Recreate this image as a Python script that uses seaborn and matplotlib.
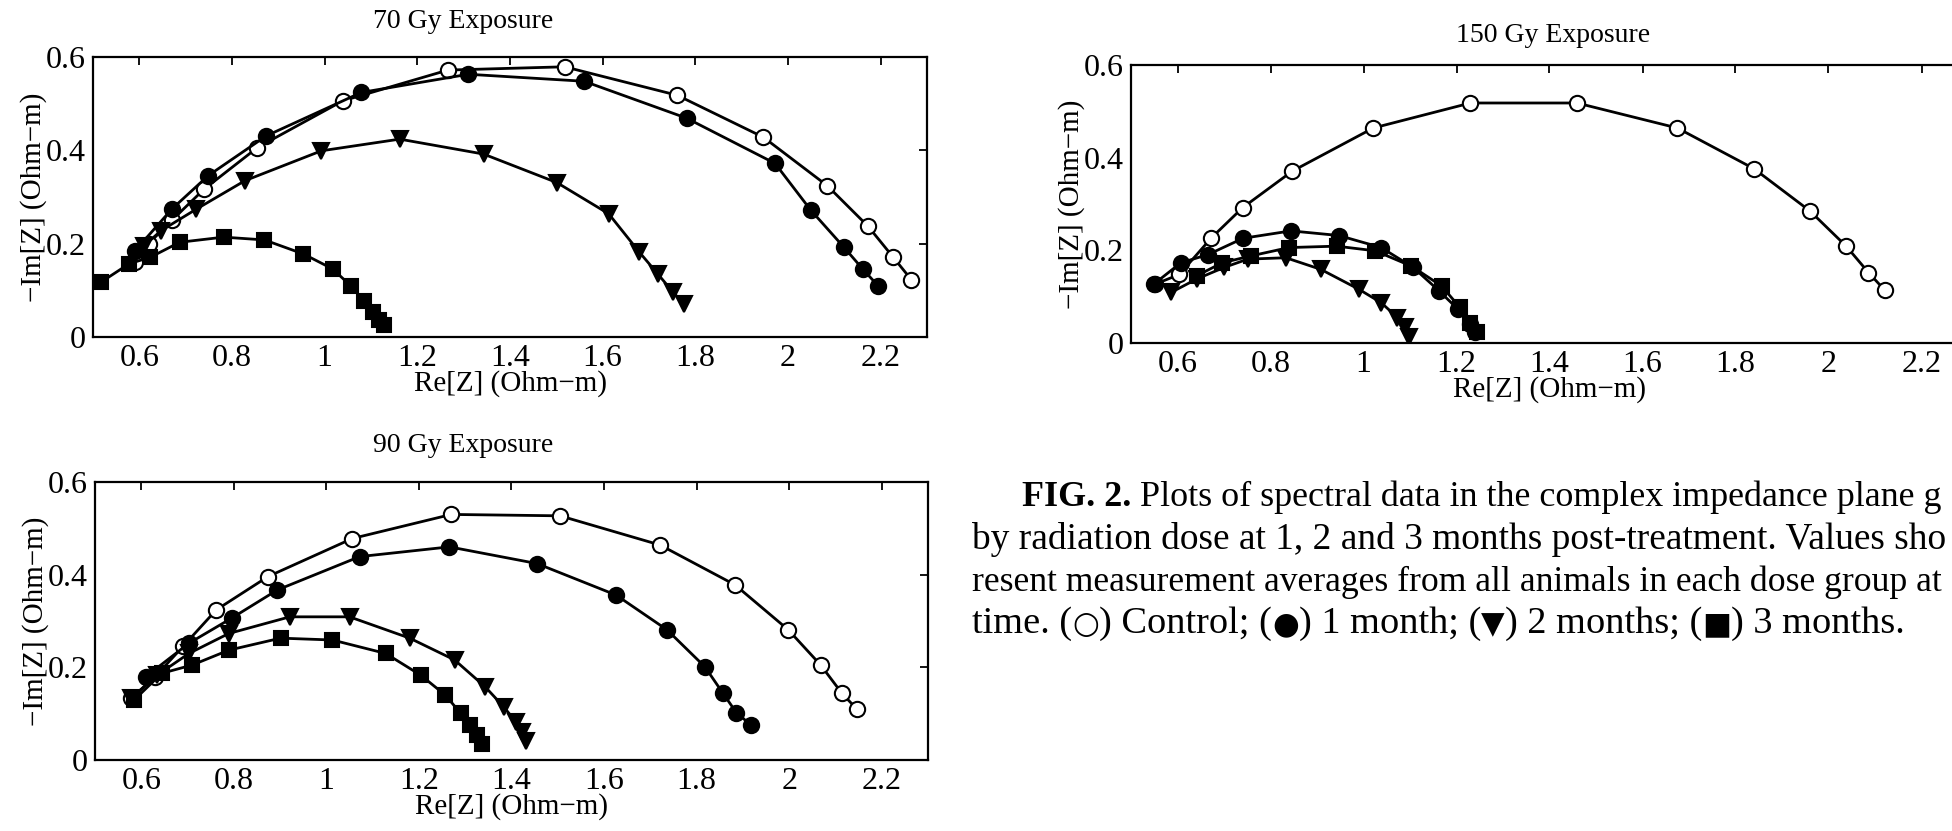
import matplotlib
matplotlib.use("Agg")
import matplotlib.pyplot as plt
import pandas as pd
import seaborn as sns

# ---------------- data ----------------
panel_titles = ["70 Gy Exposure", "150 Gy Exposure", "90 Gy Exposure"]
series_names = ["Control", "1 month", "2 months", "3 months"]

x_ticks = [0.6, 0.8, 1.0, 1.2, 1.4, 1.6, 1.8, 2.0, 2.2]
x_tick_labels = ["0.6", "0.8", "1", "1.2", "1.4", "1.6", "1.8", "2", "2.2"]
y_ticks = [0.0, 0.2, 0.4, 0.6]
y_tick_labels = ["0", "0.2", "0.4", "0.6"]

# 70 Gy
g70_ctrl_re = [0.59, 0.62, 0.67, 0.74, 0.855, 1.039, 1.266, 1.518, 1.761, 1.947, 2.085, 2.173, 2.227, 2.266]
g70_ctrl_im = [0.16, 0.20, 0.25, 0.317, 0.406, 0.506, 0.572, 0.579, 0.518, 0.428, 0.324, 0.237, 0.171, 0.123]
g70_m1_re = [0.591, 0.67, 0.749, 0.874, 1.079, 1.31, 1.56, 1.781, 1.972, 2.049, 2.121, 2.161, 2.194]
g70_m1_im = [0.185, 0.274, 0.346, 0.431, 0.524, 0.563, 0.548, 0.469, 0.372, 0.272, 0.192, 0.146, 0.11]
g70_m2_re = [0.611, 0.647, 0.723, 0.828, 0.993, 1.162, 1.343, 1.501, 1.613, 1.679, 1.719, 1.752, 1.775]
g70_m2_im = [0.196, 0.228, 0.274, 0.335, 0.399, 0.424, 0.392, 0.331, 0.264, 0.182, 0.135, 0.096, 0.071]
g70_m3_re = [0.518, 0.578, 0.624, 0.687, 0.782, 0.870, 0.954, 1.017, 1.056, 1.085, 1.105, 1.118, 1.128]
g70_m3_im = [0.118, 0.157, 0.171, 0.203, 0.214, 0.208, 0.178, 0.146, 0.110, 0.078, 0.053, 0.036, 0.025]

# 150 Gy
g150_ctrl_re = [0.552, 0.604, 0.673, 0.74, 0.847, 1.021, 1.23, 1.459, 1.675, 1.84, 1.96, 2.038, 2.086, 2.121]
g150_ctrl_im = [0.127, 0.148, 0.227, 0.292, 0.371, 0.464, 0.518, 0.518, 0.464, 0.376, 0.285, 0.209, 0.152, 0.114]
g150_m1_re = [0.549, 0.607, 0.666, 0.741, 0.844, 0.947, 1.038, 1.107, 1.162, 1.203, 1.23, 1.24]
g150_m1_im = [0.127, 0.173, 0.191, 0.226, 0.242, 0.232, 0.206, 0.163, 0.113, 0.073, 0.041, 0.023]
g150_m2_re = [0.586, 0.641, 0.70, 0.751, 0.833, 0.908, 0.99, 1.038, 1.073, 1.089, 1.097]
g150_m2_im = [0.109, 0.138, 0.163, 0.181, 0.184, 0.159, 0.116, 0.087, 0.055, 0.034, 0.012]
g150_m3_re = [0.641, 0.696, 0.758, 0.84, 0.942, 1.025, 1.103, 1.168, 1.207, 1.23, 1.244]
g150_m3_im = [0.145, 0.173, 0.188, 0.206, 0.209, 0.199, 0.166, 0.123, 0.077, 0.044, 0.023]

# 90 Gy
g90_ctrl_re = [0.578, 0.63, 0.69, 0.762, 0.874, 1.056, 1.27, 1.505, 1.721, 1.883, 1.998, 2.068, 2.114, 2.147]
g90_ctrl_im = [0.133, 0.18, 0.245, 0.324, 0.396, 0.478, 0.53, 0.527, 0.464, 0.378, 0.281, 0.205, 0.144, 0.109]
g90_m1_re = [0.61, 0.703, 0.795, 0.894, 1.072, 1.266, 1.455, 1.626, 1.736, 1.818, 1.857, 1.886, 1.917]
g90_m1_im = [0.18, 0.252, 0.306, 0.367, 0.439, 0.46, 0.424, 0.356, 0.281, 0.201, 0.144, 0.102, 0.076]
g90_m2_re = [0.578, 0.634, 0.703, 0.789, 0.921, 1.05, 1.18, 1.277, 1.343, 1.383, 1.409, 1.422, 1.431]
g90_m2_im = [0.133, 0.183, 0.23, 0.273, 0.309, 0.309, 0.263, 0.216, 0.158, 0.115, 0.083, 0.061, 0.04]
g90_m3_re = [0.584, 0.644, 0.71, 0.789, 0.901, 1.013, 1.128, 1.204, 1.257, 1.29, 1.31, 1.326, 1.336]
g90_m3_im = [0.129, 0.187, 0.205, 0.237, 0.263, 0.259, 0.23, 0.183, 0.14, 0.101, 0.076, 0.054, 0.035]

# caption (as much as is visible in the cropped reference)
caption_line1 = [("FIG. 2.", "bold", "serif"),
                 (" Plots of spectral data in the complex impedance plane g", "normal", "serif")]
caption_line2 = [("by radiation dose at 1, 2 and 3 months post-treatment. Values sho", "normal", "serif")]
caption_line3 = [("resent measurement averages from all animals in each dose group at", "normal", "serif")]
caption_line4 = [("time. (", "normal", "serif"), ("\u25CB", "normal", "sym"),
                 (") Control; (", "normal", "serif"), ("\u25CF", "normal", "sym"),
                 (") 1 month; (", "normal", "serif"), ("\u25BC", "normal", "sym"),
                 (") 2 months; (", "normal", "serif"), ("\u25A0", "normal", "sym"),
                 (") 3 months.", "normal", "serif")]

# ---------------- style ----------------
sns.set_theme(style="white")
plt.rcParams["font.family"] = ["Liberation Serif", "DejaVu Sans"]
plt.rcParams["axes.unicode_minus"] = True

W, H = 1952, 831
fig = plt.figure(figsize=(W / 100, H / 100), dpi=100)
fig.patch.set_facecolor("white")


def px_axes(left, right, top, bottom):
    return fig.add_axes([left / W, (H - bottom) / H, (right - left) / W, (bottom - top) / H])


marker_styles = {
    "Control": dict(marker="o", markersize=11, markerfacecolor="white"),
    "1 month": dict(marker="o", markersize=11, markerfacecolor="black"),
    "2 months": dict(marker="v", markersize=12, markerfacecolor="black"),
    "3 months": dict(marker="s", markersize=9.5, markerfacecolor="black"),
}

panels = [
    (panel_titles[0], px_axes(93, 927, 57, 337), (463, 22), True,
     [(g70_ctrl_re, g70_ctrl_im), (g70_m1_re, g70_m1_im), (g70_m2_re, g70_m2_im), (g70_m3_re, g70_m3_im)]),
    (panel_titles[1], px_axes(1131, 1968, 65, 343), (1553, 35), False,
     [(g150_ctrl_re, g150_ctrl_im), (g150_m1_re, g150_m1_im), (g150_m2_re, g150_m2_im), (g150_m3_re, g150_m3_im)]),
    (panel_titles[2], px_axes(95, 928, 482, 760), (463, 446), True,
     [(g90_ctrl_re, g90_ctrl_im), (g90_m1_re, g90_m1_im), (g90_m2_re, g90_m2_im), (g90_m3_re, g90_m3_im)]),
]

for title, ax, tpos, right_ticks, series in panels:
    frames = []
    for name, (re_vals, im_vals) in zip(series_names, series):
        frames.append(pd.DataFrame({"re": re_vals, "im": im_vals, "group": name}))
    df = pd.concat(frames, ignore_index=True)
    for name in series_names:
        sub = df[df["group"] == name]
        sns.lineplot(data=sub, x="re", y="im", sort=False, estimator=None, ax=ax,
                     color="black", linewidth=2.0, markeredgecolor="black",
                     markeredgewidth=1.5, legend=False, **marker_styles[name])
    ax.set_xlim(0.5, 2.3)
    ax.set_ylim(0, 0.6)
    ax.set_xticks(x_ticks)
    ax.set_xticklabels(x_tick_labels)
    ax.set_yticks(y_ticks)
    ax.set_yticklabels(y_tick_labels)
    ax.tick_params(direction="in", length=6, width=1.3, top=True, right=right_ticks,
                   labelsize=23, pad=5, colors="black")
    for sp in ax.spines.values():
        sp.set_color("black")
        sp.set_linewidth(1.6)
    ax.set_xlabel("Re[Z] (Ohm\u2212m)", fontsize=21, labelpad=-2, color="black")
    ax.set_ylabel("\u2212Im[Z] (Ohm\u2212m)", fontsize=21, labelpad=-1, color="black")
    fig.text(tpos[0] / W, 1 - tpos[1] / H, title, fontsize=20, ha="center", va="center",
             color="black")
    ax.set_facecolor("white")

# ---------------- caption ----------------
fig.canvas.draw()
renderer = fig.canvas.get_renderer()
cap_size = 26.5


def draw_line(segments, x0, baseline, x_end):
    """Draw a caption line made of segments, sized so it ends at x_end (px)."""
    size = cap_size
    for attempt in range(2):
        x = x0
        texts = []
        for txt, weight, kind in segments:
            fam = ["DejaVu Sans"] if kind == "sym" else ["Liberation Serif", "DejaVu Sans"]
            s = size * 0.8 if kind == "sym" else size
            t = fig.text(x / W, 1 - baseline / H, txt, fontsize=s, fontweight=weight,
                         family=fam, ha="left", va="baseline", color="black")
            texts.append(t)
            x += t.get_window_extent(renderer).width
        if attempt == 0:
            scale = (x_end - x0) / (x - x0)
            for t in texts:
                t.remove()
            size = size * scale


draw_line(caption_line1, 1022, 506, 1944)
draw_line(caption_line2, 972, 549, 1946)
draw_line(caption_line3, 972, 591, 1944)
draw_line(caption_line4, 972, 633, 1905)

fig.savefig("out.png", dpi=100, facecolor="white")
